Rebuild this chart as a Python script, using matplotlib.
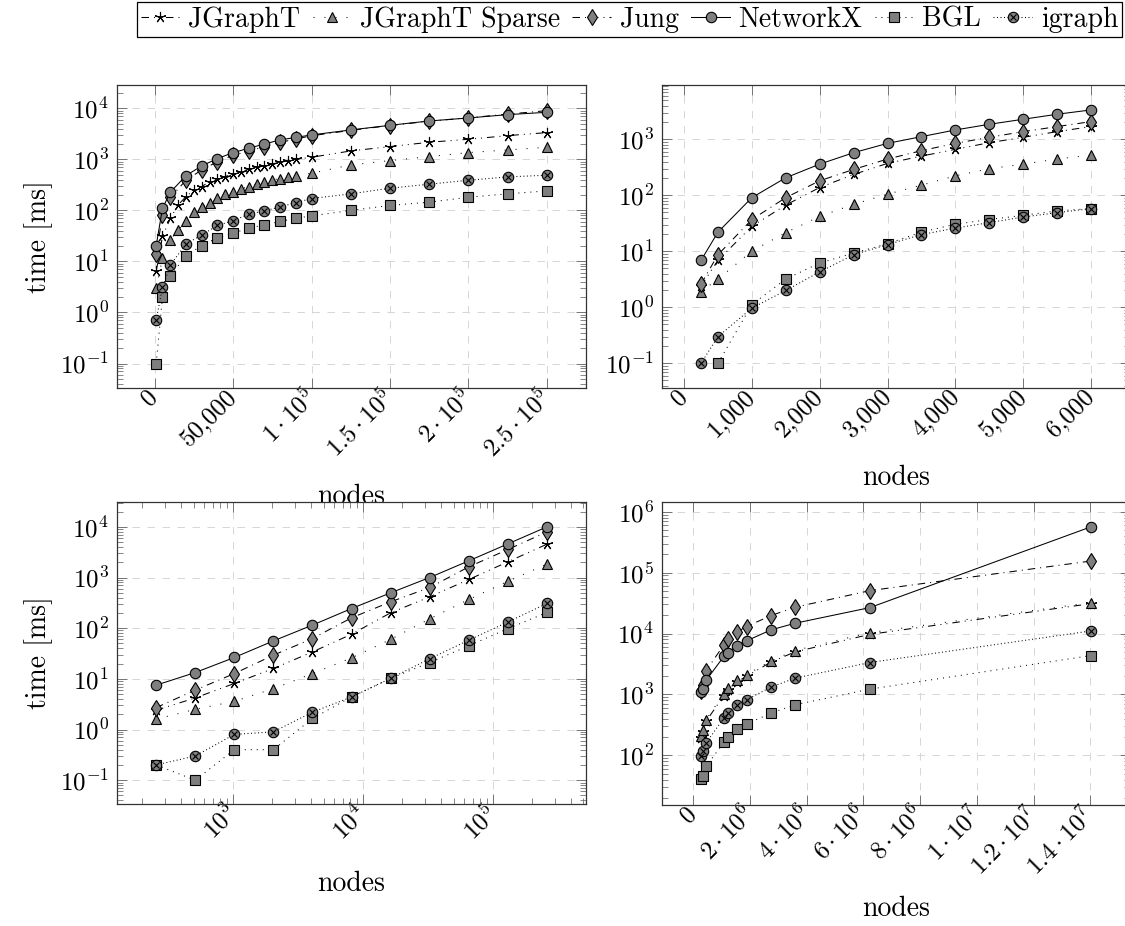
import numpy as np
import matplotlib
matplotlib.use("Agg")
import matplotlib.pyplot as plt
from matplotlib.ticker import LogLocator, FuncFormatter, NullFormatter

plt.rcParams['font.family'] = 'serif'
plt.rcParams['font.serif'] = ['cmr10']
plt.rcParams['mathtext.fontset'] = 'cm'
plt.rcParams['axes.formatter.use_mathtext'] = True
plt.rcParams['lines.scale_dashes'] = False

names = ["JGraphT", "JGraphT Sparse", "Jung", "NetworkX", "BGL", "igraph"]

# --- top left: linear nodes, log time
p1_x = [1000, 5000, 10000, 20000, 30000, 40000, 50000, 60000, 70000, 80000, 90000,
        100000, 125000, 150000, 175000, 200000, 225000, 250000]
p1_x_fine = [1000, 5000, 10000, 15000, 20000, 25000, 30000, 35000, 40000, 45000, 50000,
             55000, 60000, 65000, 70000, 75000, 80000, 85000, 90000, 100000,
             125000, 150000, 175000, 200000, 225000, 250000]
p1_jgrapht = [6.4, 31, 70, 128, 187, 252, 293, 367, 420, 460, 519, 577, 640, 700, 744,
              814, 877, 932, 1004, 1099, 1462, 1778, 2163, 2475, 2917, 3342]
p1_sparse = [3.0, 11.6, 26.5, 41.6, 62, 95, 119, 138, 173, 208, 234, 264, 293, 326, 356,
             396, 420, 453, 481, 534, 778, 946, 1133, 1357, 1530, 1726]
p1_jung = [14, 80, 180, 390, 620, 900, 1200, 1450, 1780, 2150, 2500, 2900, 3700, 4600,
           5600, 6500, 7700, 9000]
p1_networkx = [20.5, 110, 227, 481, 744, 1035, 1355, 1648, 2005, 2400, 2700, 3010, 3770,
               4650, 5650, 6470, 7520, 8360]
p1_bgl = [0.1, 2.0, 5.2, 12.9, 20.5, 29, 35.8, 44.8, 52, 60.6, 70, 78, 100, 125, 145,
          181, 211, 241]
p1_igraph = [0.72, 3.1, 8.5, 22, 33, 50.6, 63, 84, 98, 117, 142, 171, 211, 272, 326,
             390, 453, 489]

# --- top right
p2_x = [250, 500, 1000, 1500, 2000, 2500, 3000, 3500, 4000, 4500, 5000, 5500, 6000]
p2_x_bgl = [500, 1000, 1500, 2000, 2500, 3000, 3500, 4000, 4500, 5000, 5500, 6000]
p2_jgrapht = [2.4, 6.9, 28, 67, 138, 236, 372, 502, 662, 871, 1086, 1372, 1688]
p2_sparse = [1.9, 3.2, 10.1, 21.6, 42, 69, 105, 152, 223, 298, 361, 445, 523]
p2_jung = [2.6, 8.7, 37, 91, 182, 290, 445, 627, 848, 1086, 1372, 1688, 2072]
p2_networkx = [6.9, 22, 91, 206, 361, 577, 848, 1116, 1470, 1856, 2282, 2804, 3350]
p2_bgl = [0.1, 1.12, 3.2, 6.2, 9.3, 13.7, 22, 30.5, 37, 44, 52.7, 58]
p2_igraph = [0.1, 0.30, 0.97, 2.0, 4.3, 8.7, 13.2, 19.9, 26, 32.6, 41, 49, 58]

# --- bottom left: log-log
p3_x = [256, 512, 1024, 2048, 4096, 8192, 16384, 32768, 65536, 131072, 262144]
p3_jgrapht = [2.4, 4.2, 8.1, 16, 34, 76, 201, 415, 914, 2040, 4550]
p3_sparse = [1.6, 2.5, 3.6, 6.4, 12.7, 26, 60, 153, 368, 847, 1833]
p3_jung = [2.7, 6.0, 12.7, 29.3, 62.5, 160, 331, 635, 1625, 3570, 7970]
p3_networkx = [7.5, 13.3, 26.4, 56, 115, 244, 498, 1000, 2135, 4610, 10000]
p3_bgl = [0.2, 0.1, 0.4, 0.4, 1.65, 4.4, 10.2, 21, 45, 98, 204]
p3_igraph = [0.2, 0.3, 0.8, 0.9, 2.2, 4.4, 10.2, 25, 58, 133, 307]

# --- bottom right
p4_x = [0.26e6, 0.33e6, 0.45e6, 1.08e6, 1.21e6, 1.53e6, 1.88e6, 2.74e6, 3.59e6, 6.23e6, 14.03e6]
p4_jgrapht = [190, 245, 360, 960, 1190, 1600, 1990, 3400, 5000, 9700, 31000]
p4_sparse = [205, 264, 385, 1026, 1271, 1698, 2100, 3563, 5265, 10380, 32200]
p4_jung = [1150, 1450, 2440, 6510, 8070, 10510, 13030, 19730, 27040, 50700, 155400]
p4_networkx = [1079, 1223, 1698, 4200, 4760, 6360, 7580, 11480, 14760, 26680, 567000]
p4_bgl = [41, 46, 66, 163, 200, 270, 326, 494, 677, 1223, 4355]
p4_igraph = [99, 116, 159, 409, 494, 677, 818, 1320, 1852, 3346, 11060]

gray = '#7f7f7f'
lw = 0.75
styles = {
    "JGraphT": dict(marker=(5, 2, 0), ls=(0, (5.4, 3.6, 0.72, 3.6, 0.72, 3.6)), ms=8, mfc='k', mec='k'),
    "JGraphT Sparse": dict(marker='^', ls=(0, (0.72, 7.2)), ms=7.5, mfc=gray, mec='k'),
    "Jung": dict(marker='d', ls=(0, (5.4, 3.6, 0.72, 3.6)), ms=8.5, mfc=gray, mec='k'),
    "NetworkX": dict(marker='o', ls='-', ms=7.5, mfc=gray, mec='k'),
    "BGL": dict(marker='s', ls=(0, (0.72, 3.6)), ms=7.5, mfc=gray, mec='k'),
    "igraph": dict(marker='o', ls=(0, (0.72, 1.8)), ms=7.5, mfc=gray, mec='k'),
}

fig = plt.figure(figsize=(11.25, 9.26), dpi=100)
W, H = 1125.0, 926.0


def make_axes(l, t, r, b):
    return fig.add_axes([l / W, 1 - b / H, (r - l) / W, (b - t) / H])


def draw(ax, series):
    handles = {}
    for name, xs, ys in series:
        st = styles[name]
        ln, = ax.plot(xs, ys, color='k', lw=lw, ls=st['ls'], marker=st['marker'],
                      ms=st['ms'], mfc=st['mfc'], mec=st['mec'], mew=0.8, zorder=3)
        h = ln
        if name == "igraph":
            xl, = ax.plot(xs, ys, ls='none', marker='x', ms=5, mec='k', mew=0.8, zorder=3)
            h = (ln, xl)
        handles[name] = h
    return handles


def style_axes(ax, ylim):
    ax.set_yscale('log')
    ax.set_ylim(*ylim)
    ax.yaxis.set_major_locator(LogLocator(base=10, numticks=30))
    ax.yaxis.set_minor_locator(LogLocator(base=10, subs=np.arange(2, 10), numticks=30))
    ax.yaxis.set_major_formatter(FuncFormatter(lambda v, p: r'$10^{%d}$' % round(np.log10(v))))
    ax.yaxis.set_minor_formatter(NullFormatter())
    ax.grid(True, which='major', color='0.84', lw=0.7, ls=(0, (5.4, 5.4)), zorder=0)
    ax.tick_params(which='both', direction='in', top=True, right=True, color='0.45')
    ax.tick_params(which='major', length=7, width=0.7)
    ax.tick_params(which='minor', length=4.5, width=0.6)
    ax.tick_params(axis='y', labelsize=18, pad=6)
    ax.tick_params(axis='x', labelsize=18, pad=4)
    for s in ax.spines.values():
        s.set_color('0.2')
        s.set_linewidth(0.9)
    ax.set_axisbelow(True)


def rotate_xlabels(ax):
    for lab in ax.get_xticklabels():
        lab.set_rotation(45)
        lab.set_ha('right')
        lab.set_va('center')
        lab.set_rotation_mode('anchor')


# top left
ax1 = make_axes(117, 85, 586, 388)
hs = draw(ax1, [("JGraphT", p1_x_fine, p1_jgrapht), ("JGraphT Sparse", p1_x_fine, p1_sparse),
                ("Jung", p1_x, p1_jung), ("NetworkX", p1_x, p1_networkx),
                ("BGL", p1_x, p1_bgl), ("igraph", p1_x, p1_igraph)])
style_axes(ax1, (10 ** -1.48, 10 ** 4.457))
ax1.set_xlim(-24000, 275000)
ax1.set_xticks([0, 50000, 100000, 150000, 200000, 250000])
ax1.set_xticklabels(['0', '50,000', r'$1\cdot10^{5}$', r'$1.5\cdot10^{5}$',
                     r'$2\cdot10^{5}$', r'$2.5\cdot10^{5}$'])
rotate_xlabels(ax1)
ax1.set_ylabel('time [ms]', fontsize=20, va='center')
ax1.yaxis.set_label_coords(-0.168, 0.5)
ax1.set_xlabel('nodes', fontsize=20)
ax1.xaxis.set_label_coords(0.5, -0.315)

# top right
ax2 = make_axes(662, 85, 1130, 388)
draw(ax2, [("JGraphT", p2_x, p2_jgrapht), ("JGraphT Sparse", p2_x, p2_sparse),
           ("Jung", p2_x, p2_jung), ("NetworkX", p2_x, p2_networkx),
           ("BGL", p2_x_bgl, p2_bgl), ("igraph", p2_x, p2_igraph)])
style_axes(ax2, (10 ** -1.44, 10 ** 3.97))
ax2.set_xlim(-325, 6575)
ax2.set_xticks([0, 1000, 2000, 3000, 4000, 5000, 6000])
ax2.set_xticklabels(['0', '1,000', '2,000', '3,000', '4,000', '5,000', '6,000'])
rotate_xlabels(ax2)
ax2.set_xlabel('nodes', fontsize=20)
ax2.xaxis.set_label_coords(0.5, -0.254)

# bottom left
ax3 = make_axes(117, 502, 586, 804)
draw(ax3, [("JGraphT", p3_x, p3_jgrapht), ("JGraphT Sparse", p3_x, p3_sparse),
           ("Jung", p3_x, p3_jung), ("NetworkX", p3_x, p3_networkx),
           ("BGL", p3_x, p3_bgl), ("igraph", p3_x, p3_igraph)])
style_axes(ax3, (10 ** -1.47, 10 ** 4.49))
ax3.set_xscale('log')
ax3.set_xlim(10 ** 2.107, 10 ** 5.719)
ax3.xaxis.set_major_locator(LogLocator(base=10, numticks=30))
ax3.xaxis.set_minor_locator(LogLocator(base=10, subs=np.arange(2, 10), numticks=30))
ax3.xaxis.set_major_formatter(FuncFormatter(lambda v, p: r'$10^{%d}$' % round(np.log10(v))))
ax3.xaxis.set_minor_formatter(NullFormatter())
ax3.tick_params(which='both', direction='in', top=True, right=True, color='0.45')
rotate_xlabels(ax3)
ax3.set_ylabel('time [ms]', fontsize=20, va='center')
ax3.yaxis.set_label_coords(-0.168, 0.5)
ax3.set_xlabel('nodes', fontsize=20)
ax3.xaxis.set_label_coords(0.5, -0.222)

# bottom right
ax4 = make_axes(662, 502, 1130, 805)
draw(ax4, [("JGraphT", p4_x, p4_jgrapht), ("JGraphT Sparse", p4_x, p4_sparse),
           ("Jung", p4_x, p4_jung), ("NetworkX", p4_x, p4_networkx),
           ("BGL", p4_x, p4_bgl), ("igraph", p4_x, p4_igraph)])
style_axes(ax4, (10 ** 1.185, 10 ** 6.16))
ax4.set_xlim(-1.1e6, 1.54e7)
ax4.set_xticks([0, 2e6, 4e6, 6e6, 8e6, 1e7, 1.2e7, 1.4e7])
ax4.set_xticklabels(['0', r'$2\cdot10^{6}$', r'$4\cdot10^{6}$', r'$6\cdot10^{6}$',
                     r'$8\cdot10^{6}$', r'$1\cdot10^{7}$', r'$1.2\cdot10^{7}$',
                     r'$1.4\cdot10^{7}$'])
rotate_xlabels(ax4)
ax4.set_xlabel('nodes', fontsize=20)
ax4.xaxis.set_label_coords(0.5, -0.300)

leg = fig.legend([hs[n] for n in names], names, ncol=6, loc='upper center',
                 bbox_to_anchor=(0.5596, 0.998), fontsize=20, frameon=True,
                 fancybox=False, edgecolor='k', framealpha=1, borderpad=0.15,
                 handlelength=1.4, handletextpad=0.3, columnspacing=0.45,
                 borderaxespad=0, numpoints=1)
leg.get_frame().set_linewidth(0.9)

fig.savefig('out.png', dpi=100)
